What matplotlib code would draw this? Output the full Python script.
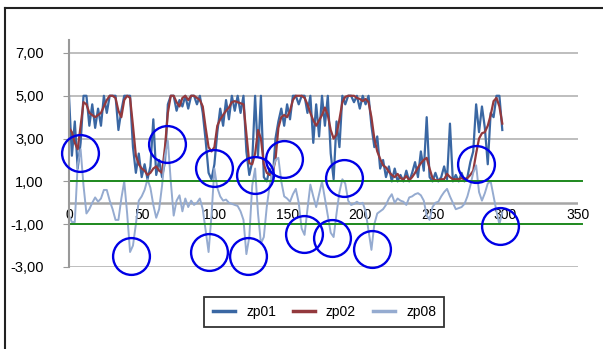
import numpy as np
import matplotlib
matplotlib.use('Agg')
import matplotlib.pyplot as plt
from matplotlib.lines import Line2D

plt.rcParams['font.family'] = ['Liberation Sans', 'DejaVu Sans']

#x positions (every 2nd sample)
x = np.arange(0, 300, 2)

zp01 = [5.0, 2.2, 3.8, 1.6, 2.8, 5.0, 5.0, 3.6, 4.6, 3.5,
	4.4, 3.6, 5.0, 4.2, 5.0, 5.0, 5.0, 3.4, 4.3, 5.0,
	5.0, 5.0, 2.6, 1.4, 2.3, 1.2, 1.8, 1.1, 1.7, 3.9,
	1.3, 2.0, 1.2, 1.9, 4.6, 5.0, 5.0, 4.3, 4.8, 4.5,
	5.0, 4.4, 5.0, 5.0, 4.6, 5.0, 4.2, 2.9, 1.4, 1.1,
	1.8, 3.3, 4.4, 3.6, 4.8, 3.9, 5.0, 4.3, 5.0, 4.2,
	5.0, 2.4, 1.3, 1.9, 5.0, 2.2, 5.0, 1.2, 1.0, 1.6,
	1.0, 3.0, 3.8, 4.4, 3.6, 4.6, 3.9, 5.0, 5.0, 4.6,
	5.0, 5.0, 4.2, 5.0, 2.8, 4.6, 3.1, 5.0, 3.6, 5.0,
	2.3, 1.1, 3.8, 2.6, 5.0, 4.6, 5.0, 5.0, 4.7, 5.0,
	4.4, 5.0, 4.6, 5.0, 3.6, 2.6, 3.1, 1.6, 2.0, 1.2,
	1.7, 1.0, 1.6, 1.0, 1.3, 1.0, 1.5, 1.0, 1.4, 1.9,
	1.2, 2.4, 1.5, 4.0, 1.2, 1.0, 1.4, 1.0, 1.2, 1.7,
	1.1, 3.7, 1.0, 1.3, 1.0, 1.4, 1.0, 1.2, 1.9, 2.4,
	4.6, 3.3, 4.5, 3.5, 1.8, 4.2, 4.0, 5.0, 5.0, 3.4]

zp02 = [3.5, 3.3, 2.8, 2.5, 3.6, 4.7, 4.6, 4.2, 4.1, 4.0,
	4.1, 4.2, 4.5, 4.8, 5.0, 5.0, 4.9, 4.3, 4.0, 4.8,
	5.0, 4.9, 3.6, 2.2, 1.8, 1.6, 1.5, 1.3, 1.4, 1.6,
	1.7, 1.5, 1.4, 2.6, 4.2, 5.0, 5.0, 4.7, 4.5, 4.9,
	5.0, 4.8, 5.0, 5.0, 4.9, 4.8, 4.5, 3.5, 2.6, 2.4,
	2.6, 3.6, 3.9, 4.1, 4.3, 4.45, 4.7, 4.75, 4.7, 4.65,
	4.6, 3.2, 1.85, 1.8, 2.3, 3.4, 3.0, 1.8, 1.4, 1.3,
	1.4, 2.0, 3.5, 4.0, 4.1, 4.0, 4.3, 4.8, 5.0, 5.0,
	5.0, 4.9, 4.6, 4.2, 3.85, 3.6, 3.85, 4.1, 4.45, 4.1,
	3.4, 3.0, 3.2, 3.9, 4.7, 4.95, 5.0, 5.0, 5.0, 4.9,
	4.85, 4.75, 4.85, 4.7, 4.0, 3.0, 2.4, 2.05, 1.75, 1.65,
	1.45, 1.3, 1.2, 1.35, 1.15, 1.1, 1.25, 1.05, 1.2, 1.4,
	1.65, 1.85, 2.0, 2.1, 1.6, 1.15, 1.05, 1.05, 1.1, 1.1,
	1.35, 1.2, 1.1, 1.1, 1.1, 1.15, 1.1, 1.15, 1.3, 1.5,
	2.3, 3.0, 3.25, 3.3, 3.6, 4.1, 4.75, 4.9, 4.5, 3.7]

zp08 = [-0.6, -0.9, -0.9, 1.8, 2.5, 0.8, -0.5, -0.3, 0.0, 0.25,
	0.05, 0.2, 0.6, 0.6, 0.1, -0.3, -0.8, -0.8, 0.2, 1.0,
	-0.5, -2.3, -2.0, -1.0, 0.1, 0.3, 0.6, 1.1, 0.7, -0.1,
	-0.7, -0.3, 0.8, 2.2, 2.9, 1.0, -0.6, 0.1, 0.35, -0.4,
	0.2, -0.2, 0.1, -0.1, 0.0, 0.2, -0.3, -1.3, -2.3, -0.6,
	1.6, 0.7, 0.3, 0.1, 0.15, 0.0, -0.05, -0.1, -0.15, -0.4,
	-0.8, -2.4, -1.6, 0.8, 1.6, -0.5, -1.9, -1.6, -0.2, 0.8,
	1.5, 2.0, 2.1, 1.0, 0.3, 0.2, 0.05, 0.4, 0.65, 0.0,
	-1.2, -1.5, -0.3, 0.85, 0.3, -0.2, 0.4, 1.0, 0.2, -0.6,
	-1.4, -1.6, -0.5, 0.5, 1.1, 0.9, 0.1, -0.1, -0.05, 0.05,
	-0.05, 0.0, -0.4, -1.3, -2.2, -1.0, -0.5, -0.4, -0.3, -0.1,
	0.2, 0.4, 0.0, 0.2, 0.1, 0.05, -0.1, 0.25, 0.3, 0.4,
	0.45, 0.35, 0.1, -0.6, -0.8, -0.2, 0.0, 0.05, 0.3, 0.5,
	0.65, 0.3, 0.0, -0.3, -0.25, -0.2, -0.05, 0.3, 0.8, 1.4,
	1.75, 0.5, 0.1, 0.45, 0.9, 1.0, 0.3, -0.4, -1.0, -0.45]

#limit lines
limits = [1, -1]
limit_x = [0, 353]

#hand drawn circles (x, y)
circle_x = [7.6, 67.4, 99.7, 127.9, 147.9, 189.1, 279.9,
	42.6, 96.3, 123.1, 161.6, 180.9, 208.4, 296.4]
circle_y = [2.34, 2.76, 1.64, 1.31, 2.06, 1.17, 1.83,
	-2.48, -2.30, -2.48, -1.45, -1.64, -2.15, -1.08]

yticks = [-3, -1, 1, 3, 5, 7]
xticks = [0, 50, 100, 150, 200, 250, 300, 350]

fig = plt.figure(figsize=(6.03, 3.49), dpi=100)
ax = fig.add_axes([0.1144, 0.235, 0.844, 0.650])

for y in yticks:
	ax.axhline(y, color='#b3b3b3', lw=1.2, zorder=0)
ax.axhline(0, color='#a6a6a6', lw=1.8, zorder=0)

ax.plot(x, zp01, color='#3a67a3', lw=1.6, label='zp01')
ax.plot(x, zp02, color='#93393d', lw=1.6, label='zp02')
ax.plot(x, zp08, color='#95abd0', lw=1.4, label='zp08')

for l in limits:
	ax.plot(limit_x, [l, l], color='#1f8a1f', lw=1.4, clip_on=False)

ax.plot(circle_x, circle_y, 'o', ms=26.5, mfc='none', mec='#0000e6', mew=1.7, clip_on=False, zorder=5)

ax.set_xlim(0, 350)
ax.set_ylim(-3, 7.6)
ax.set_yticks(yticks)
ax.set_yticklabels(['%d,00' % v for v in yticks], fontsize=10.5)
ax.set_xticks(xticks)
ax.set_xticklabels([str(v) for v in xticks], fontsize=10.5)

ax.spines['top'].set_visible(False)
ax.spines['right'].set_visible(False)
ax.spines['bottom'].set_position(('data', 0))
ax.spines['bottom'].set_visible(False)
ax.spines['left'].set_color('#999999')
ax.spines['left'].set_linewidth(1.5)
ax.tick_params(axis='y', length=4, color='#999999', pad=14)
ax.tick_params(axis='x', length=0, pad=4)
ax.set_facecolor('none')

leg = ax.legend(loc='center', bbox_to_anchor=(0.538, 0.106), bbox_transform=fig.transFigure,
	ncol=3, fontsize=10, frameon=True, fancybox=False, handlelength=1.6, columnspacing=1.2,
	borderpad=0.6)
leg.get_frame().set_edgecolor('black')
leg.get_frame().set_linewidth(1.3)
for h in leg.get_lines():
	h.set_linewidth(2.5)

#chart border (only left and top visible)
fig.add_artist(Line2D([5/603, 5/603], [0, 1 - 8/349], color='#222222', lw=1.5))
fig.add_artist(Line2D([5/603, 1], [1 - 8/349, 1 - 8/349], color='#222222', lw=1.5))

plt.savefig('out.png', dpi=100)
